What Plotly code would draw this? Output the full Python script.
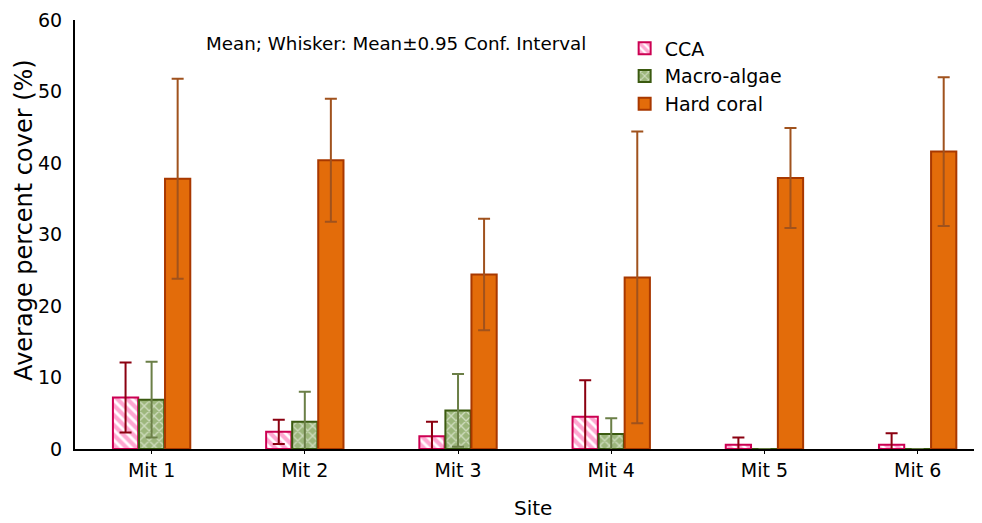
import plotly.graph_objects as go

sites = ["Mit 1", "Mit 2", "Mit 3", "Mit 4", "Mit 5", "Mit 6"]
cca = [7.2, 2.4, 1.8, 4.5, 0.6, 0.6]
cca_ci = [4.9, 1.7, 2.0, 5.1, 1.0, 1.6]
macro = [6.9, 3.8, 5.4, 2.1, 0.0, 0.0]
macro_ci = [5.3, 4.2, 5.1, 2.2, 0.0, 0.0]
coral = [37.8, 40.4, 24.4, 24.0, 37.9, 41.6]
coral_ci = [14.0, 8.6, 7.8, 20.4, 7.0, 10.4]

FONT = "DejaVu Sans, sans-serif"

fig = go.Figure()
fig.add_trace(go.Bar(
    name="CCA", x=sites, y=cca, legendgroup="a",
    marker=dict(color="white", line=dict(color="#CC0052", width=2),
                pattern=dict(shape="\\", fgcolor="#FF4FA3", bgcolor="white", size=7, solidity=0.6)),
    error_y=dict(type="data", array=cca_ci, visible=True, color="#8B0010", thickness=2, width=6),
))
fig.add_trace(go.Bar(
    name="Macro-algae", x=sites, y=macro, legendgroup="b",
    marker=dict(color="#A3BB84", line=dict(color="#3B5A10", width=2),
                pattern=dict(shape="x", fgcolor="white", bgcolor="#9CB67B", size=7, solidity=0.35)),
    error_y=dict(type="data", array=macro_ci, visible=True, color="#6B7F47", thickness=2, width=6),
))
fig.add_trace(go.Bar(
    name="Hard coral", x=sites, y=coral, legendgroup="c",
    marker=dict(color="#E36C0A", line=dict(color="#A83800", width=2)),
    error_y=dict(type="data", array=coral_ci, visible=True, color="#A0521D", thickness=2, width=6),
))

fig.add_annotation(
    text="Mean; Whisker: Mean±0.95 Conf. Interval",
    x=0.142, y=0.946, xref="paper", yref="paper", xanchor="left", yanchor="middle",
    showarrow=False, font=dict(family=FONT, size=18.3, color="black"),
)
fig.add_annotation(
    text="Site", x=0.505, y=-0.1678, xref="paper", yref="paper",
    xanchor="center", yanchor="bottom", showarrow=False, borderpad=0,
    font=dict(family=FONT, size=20, color="black"),
)
fig.add_annotation(
    text="Average percent cover (%)", x=-0.0728, y=0.534, xref="paper", yref="paper",
    xanchor="left", yanchor="middle", textangle=-90, showarrow=False, borderpad=0,
    font=dict(family=FONT, size=24, color="black"),
)

fig.update_layout(
    width=974, height=515,
    margin=dict(l=67, r=0, t=12, b=74),
    plot_bgcolor="white", paper_bgcolor="white",
    barmode="group", bargap=0.49, bargroupgap=0.03,
    font=dict(family=FONT, size=19, color="black"),
    showlegend=True,
    legend=dict(x=0.606, y=0.978, xanchor="left", yanchor="top",
                font=dict(family=FONT, size=19), tracegroupgap=0,
                bgcolor="rgba(0,0,0,0)"),
    xaxis=dict(range=[-0.5, 5.42], showline=True, linecolor="black", linewidth=2,
               ticks="outside", ticklen=3, tickcolor="black", automargin=False,
               tickfont=dict(size=19)),
    yaxis=dict(range=[0, 60], dtick=10, showline=True, linecolor="black", linewidth=2,
               showgrid=False, zeroline=False, ticks="outside", ticklen=7, automargin=False,
               tickcolor="rgba(0,0,0,0)", tickfont=dict(size=19)),
)

fig.write_html("out.html")
